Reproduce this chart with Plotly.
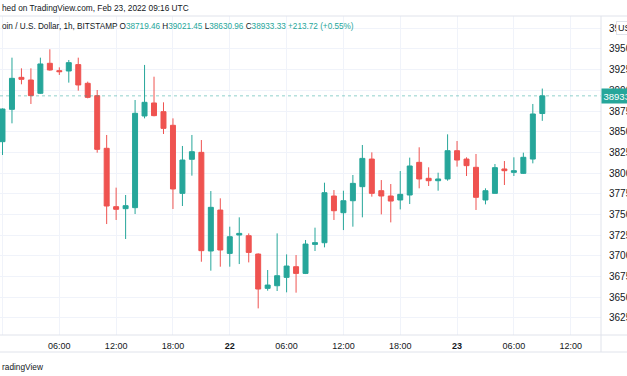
import pandas as pd
import plotly.graph_objects as go

# ---- data (hourly BTC/USD, Bitstamp) ----
start_time = "2022-02-21 00:00"
opens = [38379, 38770, 39157, 39125, 38964, 39327, 39238, 39234, 39311, 39085,
         38936, 38299, 37593, 37569, 37581, 38690, 38847, 38742, 38577, 37754,
         38166, 38250, 37057, 37552, 37028, 37250, 37242, 37020, 36605, 36637,
         36738, 36867, 36786, 37137, 37157, 37722, 37520, 37665, 37835, 38169,
         37786, 37722, 37674, 37734, 38129, 37936, 37907, 37928, 38270, 38169,
         38069, 37674, 37754, 38049, 38008, 37996, 38169, 38719.46]
highs = [38782, 39395, 39266, 39266, 39395, 39496, 39278, 39367, 39395, 39105,
         39004, 38460, 37823, 37734, 38883, 39307, 39165, 38855, 38661, 38327,
         38460, 38399, 37782, 37694, 37351, 37464, 37270, 37028, 36827, 37270,
         37016, 37008, 37190, 37339, 37883, 37794, 37786, 37976, 38339, 38250,
         37915, 37867, 38024, 38186, 38311, 38069, 38004, 38468, 38387, 38190,
         38230, 37815, 38109, 38145, 38190, 38246, 38835, 39021.45]
lows = [38218, 38601, 39073, 38835, 38956, 39238, 39186, 39093, 38996, 38903,
        38246, 37383, 37432, 37202, 37504, 38661, 38686, 38472, 37565, 37601,
        37968, 36927, 36819, 36867, 36867, 36899, 36919, 36363, 36577, 36573,
        36557, 36553, 36778, 37057, 37101, 37432, 37310, 37351, 37464, 37714,
        37500, 37403, 37560, 37625, 37815, 37843, 37786, 37907, 38077, 37964,
        37553, 37621, 37754, 37855, 37964, 37988, 38117, 38630.96]
closes = [38774, 39145, 39133, 38936, 39319, 39246, 39226, 39335, 39065, 38915,
          38286, 37601, 37561, 37605, 38722, 38855, 38694, 38540, 37807, 38157,
          38258, 37061, 37585, 37069, 37230, 37270, 37040, 36597, 36645, 36758,
          36875, 36786, 37141, 37158, 37762, 37544, 37665, 37875, 38177, 37754,
          37722, 37661, 37742, 38085, 37928, 37907, 37928, 38270, 38157, 38089,
          37706, 37786, 38065, 38028, 38028, 38190, 38714, 38933.33]

price_ticks = [36250, 36500, 36750, 37000, 37250, 37500, 37750, 38000,
               38250, 38500, 38750, 39000, 39250, 39500, 39750]
price_labels = [str(v) for v in price_ticks]
time_ticks = ["2022-02-21 00:00", "2022-02-21 06:00", "2022-02-21 12:00",
              "2022-02-21 18:00", "2022-02-22 00:00", "2022-02-22 06:00",
              "2022-02-22 12:00", "2022-02-22 18:00", "2022-02-23 00:00",
              "2022-02-23 06:00", "2022-02-23 12:00"]
time_labels = ["<b>21</b>", "06:00", "12:00", "18:00", "<b>22</b>", "06:00",
               "12:00", "18:00", "<b>23</b>", "06:00", "12:00"]

last_close = closes[-1]
GREEN = "#26a69a"
RED = "#ef5350"
TXT = "#131722"
GRID = "#f0f3fa"
BORDER = "#e0e3eb"
FONT = "Liberation Sans, Arial, sans-serif"

times = pd.date_range(start_time, periods=len(opens), freq="h")

fig = go.Figure()
fig.add_trace(go.Candlestick(
    x=times, open=opens, high=highs, low=lows, close=closes,
    increasing=dict(line=dict(color=GREEN, width=1), fillcolor=GREEN),
    decreasing=dict(line=dict(color=RED, width=1), fillcolor=RED),
    whiskerwidth=0, showlegend=False, hoverinfo="skip",
))

W, H = 627, 376
ML, MR, MT, MB = 0, 26, 16, 41
PW, PH = W - ML - MR, H - MT - MB


def py(ypx):
    return (H - MB - ypx) / PH


def px(xpx):
    return (xpx - ML) / PW


fig.update_layout(
    width=W, height=H,
    margin=dict(l=ML, r=MR, t=MT, b=MB, pad=0, autoexpand=False),
    paper_bgcolor="white", plot_bgcolor="white",
    font=dict(family=FONT, size=9, color=TXT),
    boxgap=0.25,
    xaxis=dict(
        type="date", automargin=False,
        range=["2022-02-20 23:44:10", "2022-02-23 15:12:00"],
        tickmode="array", tickvals=time_ticks, ticktext=time_labels,
        showgrid=True, gridcolor=GRID, gridwidth=1,
        zeroline=False, showline=False,
        ticks="outside", ticklen=2, tickcolor="rgba(0,0,0,0)",
        tickfont=dict(size=9, color=TXT),
        rangeslider=dict(visible=False),
        fixedrange=True,
    ),
    yaxis=dict(
        side="right", automargin=False,
        range=[36041, 39899],
        tickmode="array", tickvals=price_ticks, ticktext=price_labels,
        showgrid=True, gridcolor=GRID, gridwidth=1,
        zeroline=False, showline=False,
        ticks="outside", ticklen=5, tickcolor="rgba(0,0,0,0)",
        tickfont=dict(size=10, color=TXT),
        fixedrange=True,
    ),
)

shapes = []
# last price dotted line
shapes.append(dict(type="line", xref="paper", yref="y", x0=0, x1=1,
                   y0=last_close, y1=last_close,
                   line=dict(color=GREEN, width=1, dash="dot"), opacity=0.5))
# panel borders
for ypx in (16, 335, 352):
    shapes.append(dict(type="line", xref="paper", yref="paper",
                       x0=px(0), x1=px(W), y0=py(ypx), y1=py(ypx),
                       line=dict(color=BORDER, width=1)))
shapes.append(dict(type="line", xref="paper", yref="paper",
                   x0=1, x1=1, y0=py(16), y1=py(352),
                   line=dict(color=BORDER, width=1)))
fig.update_layout(shapes=shapes)

ann = []
ann.append(dict(xref="paper", yref="paper", x=px(0), y=py(8),
                xanchor="left", yanchor="middle", showarrow=False,
                text="hed on TradingView.com, Feb 23, 2022 09:16 UTC",
                font=dict(size=8.3, color=TXT)))
legend_txt = ("oin / U.S. Dollar, 1h, BITSTAMP "
              f"O<span style='color:{GREEN}'>38719.46</span> "
              f"H<span style='color:{GREEN}'>39021.45</span> "
              f"L<span style='color:{GREEN}'>38630.96</span> "
              f"C<span style='color:{GREEN}'>38933.33</span> "
              f"<span style='color:{GREEN}'>+213.72 (+0.55%)</span>")
ann.append(dict(xref="paper", yref="paper", x=px(0), y=py(27),
                xanchor="left", yanchor="middle", showarrow=False,
                text=legend_txt, font=dict(size=8.2, color=TXT)))
ann.append(dict(xref="paper", yref="paper", x=px(0), y=py(367),
                xanchor="left", yanchor="middle", showarrow=False,
                text="radingView", font=dict(size=8.3, color=TXT)))
# last price label on the scale
ann.append(dict(xref="paper", yref="y", x=1, y=last_close,
                xanchor="left", yanchor="middle", showarrow=False,
                text="38933", bgcolor=GREEN, borderpad=1.5,
                font=dict(size=9.5, color="white")))
# currency button
ann.append(dict(xref="paper", yref="paper", x=px(616), y=py(28),
                xanchor="left", yanchor="middle", showarrow=False,
                text="USD", bgcolor="white", bordercolor=BORDER, borderwidth=1,
                borderpad=1, font=dict(size=9, color=TXT)))
fig.update_layout(annotations=ann)

fig.write_html(
    "out.html",
    config={"displayModeBar": False},
    post_script="document.body.style.margin='0';document.body.style.padding='0';"
                "document.body.style.overflow='hidden';",
)
